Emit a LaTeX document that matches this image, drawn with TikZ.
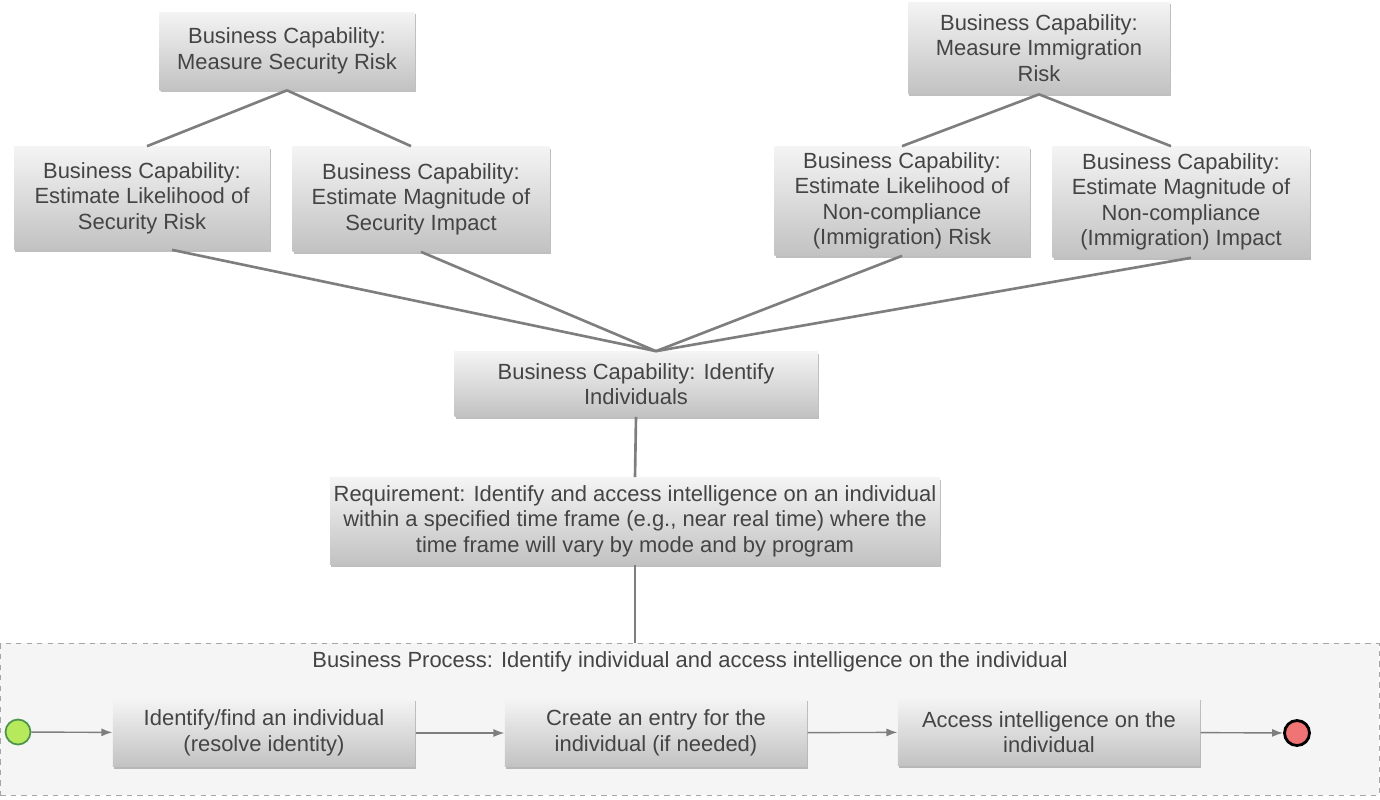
\documentclass[tikz,border=0pt]{standalone}
\usepackage{fontspec}
\setmainfont{Liberation Sans}
\usetikzlibrary{arrows.meta,shadows}

\definecolor{boxtext}{HTML}{444444}
\definecolor{boxtop}{HTML}{F4F4F4}
\definecolor{boxbottom}{HTML}{C2C2C2}
\definecolor{linkgray}{HTML}{7E7E7E}
\definecolor{lanefill}{HTML}{F5F5F5}
\definecolor{startgreen}{HTML}{B6EA5C}
\definecolor{endred}{HTML}{F07474}

\begin{document}
\begin{tikzpicture}[x=0.02cm, y=-0.02cm,
    capability/.style={align=center, text=boxtext, font=\fontsize{12.5}{14.5}\selectfont,
        top color=boxtop, bottom color=boxbottom, inner sep=2pt,
        drop shadow={shadow xshift=0.6pt, shadow yshift=-1.2pt, opacity=0.25, fill=black}},
    activity/.style={capability, minimum width=6.05cm, minimum height=1.35cm},
    link/.style={draw=linkgray, line width=1.5pt},
    flow/.style={draw=linkgray, line width=0.8pt, -{Latex[length=2.2mm, width=1.6mm]}},
    lane/.style={draw=gray!70, dashed, fill=lanefill},
    startstate/.style={circle, draw=green!40!black!70, line width=1pt, fill=startgreen, minimum size=0.5cm, inner sep=0pt},
    endstate/.style={circle, draw=black, line width=1.6pt, fill=endred, minimum size=0.5cm, inner sep=0pt}
]
    \useasboundingbox (0,0) rectangle (1380,799);

    % process lane
    \node[lane, anchor=north west, minimum width=27.58cm, minimum height=3.04cm, inner sep=0pt] (lane) at (0,643) {};
    \node[text=boxtext, font=\fontsize{12.5}{14.5}\selectfont] (lanetitle) at (690,662)
        {Business Process: Identify individual and access intelligence on the individual};

    % capabilities
    \node[capability, minimum width=5.1cm, minimum height=1.56cm] (measuresec) at (287,51)
        {Business Capability:\\Measure Security Risk};
    \node[capability, minimum width=5.24cm, minimum height=1.84cm] (measureimm) at (1039,48)
        {Business Capability:\\Measure Immigration\\Risk};
    \node[capability, minimum width=5.12cm, minimum height=2.06cm] (likelysec) at (142,198)
        {Business Capability:\\Estimate Likelihood of\\Security Risk};
    \node[capability, minimum width=5.14cm, minimum height=2.1cm] (magsec) at (421,199)
        {Business Capability:\\Estimate Magnitude of\\Security Impact};
    \node[capability, minimum width=5.1cm, minimum height=2.18cm] (likelyimm) at (902,201)
        {Business Capability:\\Estimate Likelihood of\\Non-compliance\\(Immigration) Risk};
    \node[capability, minimum width=5.14cm, minimum height=2.22cm] (magimm) at (1181,202)
        {Business Capability:\\Estimate Magnitude of\\Non-compliance\\(Immigration) Impact};
    \node[capability, minimum width=7.26cm, minimum height=1.3cm] (identify) at (636,384)
        {Business Capability: Identify\\Individuals};
    \node[capability, minimum width=12.2cm, minimum height=1.74cm] (require) at (635,521)
        {Requirement: Identify and access intelligence on an individual\\
         within a specified time frame (e.g., near real time) where the\\
         time frame will vary by mode and by program};

    % process steps
    \node[startstate] (start) at (18,732) {};
    \node[activity] (findind) at (264,733) {Identify/find an individual\\(resolve identity)};
    \node[activity] (entry) at (656,733) {Create an entry for the\\individual (if needed)};
    \node[activity] (access) at (1049,732) {Access intelligence on the\\individual};
    \node[endstate] (finish) at (1297,733) {};

    \draw[link] (measuresec.south) -- ([xshift=0.1cm]likelysec.north);
    \draw[link] (measuresec.south) -- ([xshift=-0.2cm]magsec.north);
    \draw[link] (measureimm.south) -- (likelyimm.north);
    \draw[link] (measureimm.south) -- ([xshift=-0.2cm]magimm.north);
    \draw[link] ([xshift=0.6cm]likelysec.south) -- ([xshift=0.4cm]identify.north);
    \draw[link] (magsec.south) -- ([xshift=0.4cm]identify.north);
    \draw[link] (likelyimm.south) -- ([xshift=0.4cm]identify.north);
    \draw[link] ([xshift=0.2cm]magimm.south) -- ([xshift=0.4cm]identify.north);
    \draw[link] (identify.south) -- (require.north);
    \draw[link] (require.south) -- (require.south |- lane.north);

    \draw[flow] (start) -- (findind);
    \draw[flow] (findind) -- (entry);
    \draw[flow] (entry) -- (access);
    \draw[flow] (access) -- (finish);
\end{tikzpicture}
\end{document}
